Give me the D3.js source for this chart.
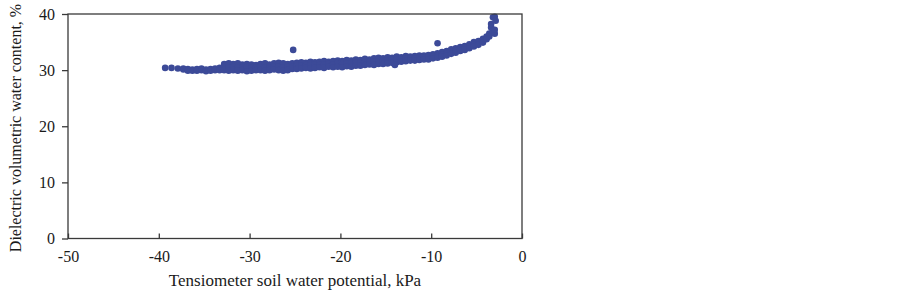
<!DOCTYPE html>
<html>
<head>
<meta charset="utf-8">
<script src="https://cdn.jsdelivr.net/npm/d3@7"></script>
<style>
  body { margin: 0; background: #fff; }
  .frame { fill: none; stroke: #3a3a3a; stroke-width: 1.3; }
  .axis path { display: none; }
  .axis line { stroke: #3a3a3a; stroke-width: 1.3; }
</style>
</head>
<body>
<svg id="chart" width="903" height="290"></svg>
<script>
// tensiometer potential (kPa) and the dielectric readings taken at it (%)
const potential = [
  -39.3, -38.6, -37.9, -37.3, -36.8, -36.3, -35.8, -35.3, -34.8, -34.3, -33.8, -33.3,
  -32.8, -32.3, -31.8, -31.3, -30.8, -30.3, -29.8, -29.3, -28.8, -28.3, -27.8, -27.3,
  -26.8, -26.3, -25.8, -25.3, -24.8, -24.3, -23.8, -23.3, -22.8, -22.3, -21.8, -21.3,
  -20.8, -20.3, -19.8, -19.3, -18.8, -18.3, -17.8, -17.3, -16.8, -16.3, -15.8, -15.3,
  -14.8, -14.3, -13.8, -13.3, -12.8, -12.3, -11.8, -11.3, -10.8, -10.3, -9.8, -9.3,
  -8.8, -8.3, -7.8, -7.3, -6.8, -6.3, -5.8, -5.3, -4.8, -4.3, -3.9, -3.6,
  -3.4, -3.2, -3.0, -2.9
];
const water = [
  [30.4], [30.4], [30.3], [30.3, 30.1], [30.2, 29.9], [30.1, 29.9], [30.2, 29.9], [30.3, 30.0],
  [30.1, 29.8], [30.2, 29.9], [30.3, 30.0], [30.4, 30.0],
  [31.1, 30.6, 30.0], [31.2, 30.5, 29.9], [31.1, 30.6, 30.0], [31.2, 30.4, 29.9],
  [31.0, 30.5, 30.0], [31.1, 30.6, 29.8], [31.0, 30.4, 29.9], [30.9, 30.5, 30.0],
  [31.1, 30.6, 30.0], [31.2, 30.5, 29.9], [31.0, 30.4, 30.0], [31.2, 30.6, 30.1],
  [31.3, 30.7, 30.0], [31.2, 30.5, 29.9], [31.1, 30.6, 30.0], [31.2, 30.7, 30.2],
  [31.3, 30.8, 30.2], [31.4, 30.8, 30.3], [31.3, 30.9, 30.4], [31.5, 30.9, 30.3],
  [31.4, 31.0, 30.4], [31.5, 30.9, 30.5], [31.6, 31.0, 30.4], [31.5, 31.1, 30.6],
  [31.6, 31.0, 30.5], [31.7, 31.2, 30.6], [31.6, 31.1, 30.5], [31.8, 31.2, 30.7],
  [31.7, 31.3, 30.6], [31.9, 31.3, 30.8], [31.8, 31.4, 30.8], [32.0, 31.4, 30.9],
  [31.9, 31.5, 31.0], [32.1, 31.5, 30.9], [32.2, 31.6, 31.1], [32.1, 31.7, 31.1],
  [32.3, 31.7, 31.2], [32.2, 31.8, 31.3], [32.4, 31.9, 31.4], [32.3, 31.9, 31.5],
  [32.5, 32.0, 31.6], [32.4, 32.1, 31.7], [32.5, 32.1, 31.7], [32.6, 32.2, 31.8],
  [32.6, 32.2, 31.9], [32.7, 32.3, 31.9], [32.8, 32.4, 32.1], [33.0, 32.5, 32.2],
  [33.2, 32.7, 32.4], [33.4, 32.9, 32.6], [33.7, 33.2, 32.9], [33.9, 33.5, 33.1],
  [34.1, 33.7, 33.4], [34.3, 34.0, 33.6], [34.6, 34.2, 33.9], [35.0, 34.5, 34.2],
  [35.2, 34.9, 34.5], [35.6, 35.2, 34.9], [36.0, 35.5], [36.5, 36.0],
  [37.6, 38.2], [39.4, 37.0], [39.5, 36.5, 37.2], [38.8]
];
// stray readings off the main band
const strayPotential = [-25.2, -14.0, -9.3];
const strayWater = [33.6, 30.9, 34.8];

const xTicks = [-50, -40, -30, -20, -10, 0];
const yTicks = [0, 10, 20, 30, 40];

const serif = "'Liberation Serif', 'Times New Roman', Times, serif";
const margin = {left: 68, right: 381, top: 14, bottom: 51.5};
const svg = d3.select("#chart");
const width = +svg.attr("width"), height = +svg.attr("height");

const x = d3.scaleLinear().domain([-50, 0]).range([margin.left, width - margin.right]);
const y = d3.scaleLinear().domain([0, 40]).range([height - margin.bottom, margin.top]);

let points = [];
for (let i = 0; i < potential.length; ++i) {
    water[i].forEach(w => points.push([potential[i], w]));
}
strayPotential.forEach((p, i) => points.push([p, strayWater[i]]));

svg.append("g").selectAll("circle")
    .data(points)
    .enter()
    .append("circle")
    .attr("cx", d => x(d[0]))
    .attr("cy", d => y(d[1]))
    .attr("r", 3.3)
    .attr("fill", "#3c4a98");

// plain hyphen minus, like the original
const plain = d => String(d);

// x ticks point inwards, y ticks outwards
svg.append("g")
    .attr("class", "axis")
    .attr("transform", "translate(0," + y(0) + ")")
    .call(d3.axisBottom(x).tickValues(xTicks).tickFormat(plain)
        .tickSizeInner(-5).tickSizeOuter(0).tickPadding(12));

svg.append("g")
    .attr("class", "axis")
    .attr("transform", "translate(" + x(-50) + ",0)")
    .call(d3.axisLeft(y).tickValues(yTicks).tickFormat(plain)
        .tickSizeInner(6).tickSizeOuter(0).tickPadding(7));

svg.selectAll(".axis")
    .attr("font-family", serif)
    .attr("font-size", 16);
svg.selectAll(".axis text")
    .attr("font-family", serif)
    .attr("fill", "#1a1a1a");

svg.append("rect")
    .attr("class", "frame")
    .attr("x", x(-50))
    .attr("y", y(40))
    .attr("width", x(0) - x(-50))
    .attr("height", y(0) - y(40));

svg.append("text")
    .attr("x", (x(-50) + x(0)) / 2)
    .attr("y", 286)
    .attr("text-anchor", "middle")
    .attr("font-family", serif)
    .attr("font-size", 17)
    .attr("fill", "#1a1a1a")
    .text("Tensiometer soil water potential, kPa");

svg.append("text")
    .attr("transform", "translate(21,128) rotate(-90)")
    .attr("text-anchor", "middle")
    .attr("font-family", serif)
    .attr("font-size", 16)
    .attr("fill", "#1a1a1a")
    .text("Dielectric volumetric water content, %");
</script>
</body>
</html>
